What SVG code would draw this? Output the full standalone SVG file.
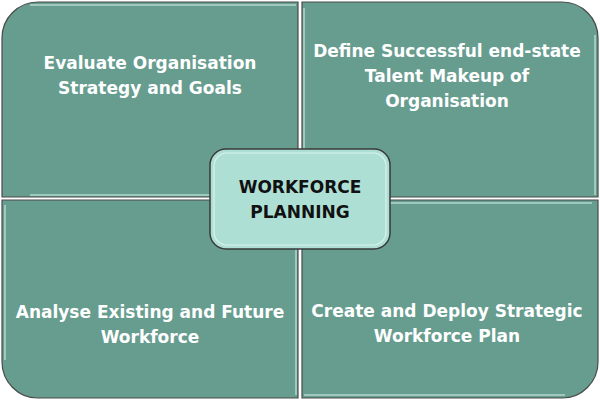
<svg xmlns="http://www.w3.org/2000/svg" width="600" height="400" viewBox="0 0 600 400">
<style>
.q{fill:#669d8f;stroke:#4a4a4a;stroke-width:1.2}
.hl{fill:none;stroke:#c4e6dc;stroke-width:1.5;opacity:0.8}
.t{font-family:"DejaVu Sans","Liberation Sans",sans-serif;font-weight:bold;font-size:17px;fill:#ffffff;text-anchor:middle}
.c{fill:#aedfd5;stroke:#3a3a3a;stroke-width:1.5}
.ct{font-family:"DejaVu Sans","Liberation Sans",sans-serif;font-weight:bold;font-size:17px;fill:#111111;text-anchor:middle}
</style>
<rect width="600" height="400" fill="#ffffff"/>
<g id="q1">
<path class="q" d="M2,38 A36,36 0 0 1 38,2 H298 V197 H2 Z"/>
<path class="hl" d="M30,5 H296 M30,195 H296"/>
<text class="t" x="150" y="69">Evaluate Organisation</text>
<text class="t" x="150" y="94">Strategy and Goals</text>
</g>
<g id="q2">
<path class="q" d="M302,2 H562 A36,36 0 0 1 598,38 V197 H302 Z"/>
<path class="hl" d="M304,8 V195 M595,35 V195"/>
<text class="t" x="447" y="57">Define Successful end-state</text>
<text class="t" x="447" y="82">Talent Makeup of</text>
<text class="t" x="447" y="107">Organisation</text>
</g>
<g id="q3">
<path class="q" d="M2,200 H298 V398 H38 A36,36 0 0 1 2,362 Z"/>
<path class="hl" d="M5,205 V360 M296,205 V395"/>
<text class="t" x="150" y="318">Analyse Existing and Future</text>
<text class="t" x="150" y="343">Workforce</text>
</g>
<g id="q4">
<path class="q" d="M302,200 H598 V362 A36,36 0 0 1 562,398 H302 Z"/>
<path class="hl" d="M304,203 H592 M304,395 H565"/>
<text class="t" x="447" y="317">Create and Deploy Strategic</text>
<text class="t" x="447" y="342">Workforce Plan</text>
</g>
<g id="center">
<rect class="c" x="210" y="149" width="180" height="100" rx="16"/>
<rect x="214" y="153" width="172" height="92" rx="13" fill="none" stroke="#d8f2ec" stroke-width="1.2"/>
<text class="ct" x="300" y="193">WORKFORCE</text>
<text class="ct" x="300" y="218">PLANNING</text>
</g>
</svg>
